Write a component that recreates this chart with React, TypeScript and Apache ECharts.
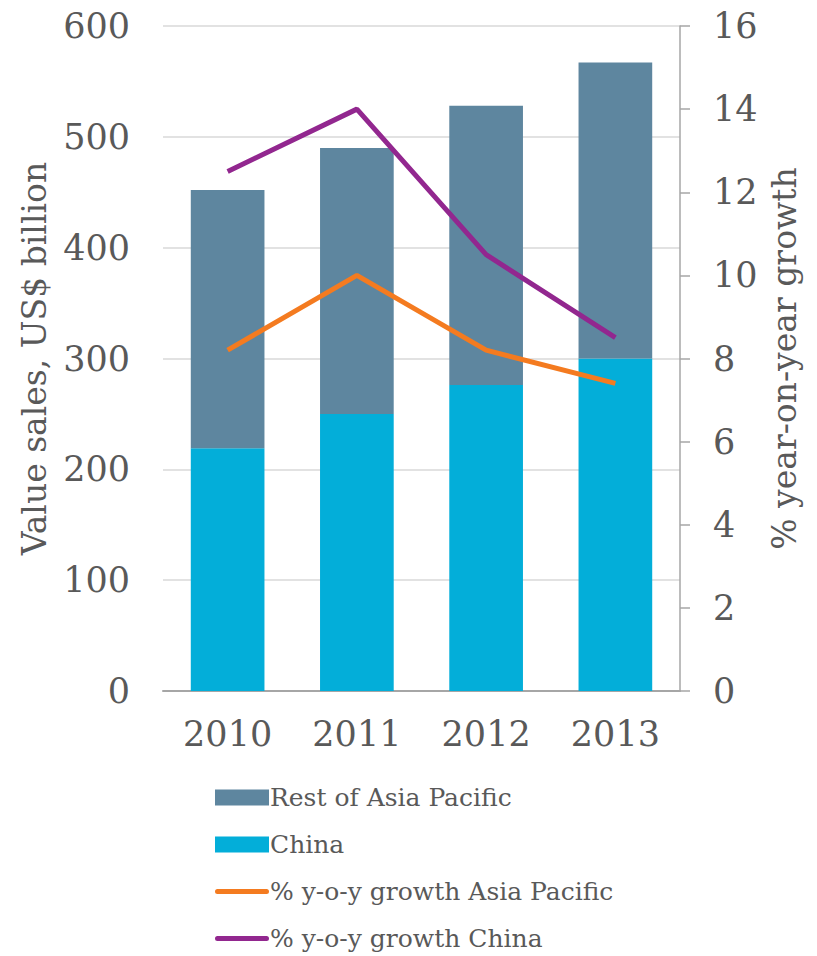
import React, { useEffect, useRef } from "react";
import * as echarts from "echarts";

const years = ["2010", "2011", "2012", "2013"];
const chinaSales = [219, 250, 276, 300];
const restSales = [233, 240, 252, 267];
const growthAsiaPacific = [8.2, 10.0, 8.2, 7.4];
const growthChina = [12.5, 14.0, 10.5, 8.5];

const FONT = "'DejaVu Serif', serif";
const TXT = "#595959";
const LINE_ICON = "path://M2.5,0 L51.5,0 A2.5,2.5 0 0 1 51.5,5 L2.5,5 A2.5,2.5 0 0 1 2.5,0 Z";

export default function App() {
  const ref = useRef<HTMLDivElement>(null);
  useEffect(() => {
    if (!ref.current) return;
    const chart = echarts.init(ref.current, null, { renderer: "svg" });
    chart.setOption({
      animation: false,
      textStyle: { fontFamily: FONT, color: TXT },
      grid: { left: 163, right: 137, top: 26, bottom: 265 },
      legend: {
        orient: "vertical",
        left: 210,
        top: 780,
        height: 176,
        itemGap: 22,
        itemWidth: 54,
        itemHeight: 16,
        textStyle: { fontFamily: FONT, fontSize: 25, color: TXT, padding: [0, 0, 0, -4] },
        data: [
          { name: "Rest of Asia Pacific", icon: "rect" },
          { name: "China", icon: "rect" },
          { name: "% y-o-y growth Asia Pacific", icon: LINE_ICON },
          { name: "% y-o-y growth China", icon: LINE_ICON },
        ],
      },
      xAxis: {
        type: "category",
        data: years,
        axisLine: { lineStyle: { color: "#a6a6a6", width: 2 } },
        axisTick: { show: false },
        axisLabel: { fontFamily: FONT, fontSize: 35, color: TXT, margin: 25 },
      },
      yAxis: [
        {
          type: "value",
          min: 0,
          max: 600,
          interval: 100,
          name: "Value sales, US$ billion",
          nameLocation: "middle",
          nameGap: 112,
          nameTextStyle: { fontFamily: FONT, fontSize: 33, color: TXT },
          axisLine: { show: false },
          axisTick: { show: false },
          axisLabel: { fontFamily: FONT, fontSize: 35, color: TXT, margin: 33 },
          splitLine: { lineStyle: { color: "#d9d9d9", width: 1.5 } },
        },
        {
          type: "value",
          min: 0,
          max: 16,
          interval: 2,
          position: "right",
          name: "% year-on-year growth",
          nameLocation: "middle",
          nameGap: 71,
          nameRotate: 90,
          nameTextStyle: { fontFamily: FONT, fontSize: 33, color: TXT },
          axisLine: { show: true, lineStyle: { color: "#a6a6a6", width: 1.5 } },
          axisTick: { show: true, length: 10, lineStyle: { color: "#a6a6a6", width: 1.5 } },
          axisLabel: { fontFamily: FONT, fontSize: 35, color: TXT, margin: 33 },
          splitLine: { show: false },
        },
      ],
      series: [
        {
          name: "China",
          type: "bar",
          stack: "sales",
          barWidth: "57%",
          data: chinaSales,
          itemStyle: { color: "#03AED9" },
        },
        {
          name: "Rest of Asia Pacific",
          type: "bar",
          stack: "sales",
          barWidth: "57%",
          data: restSales,
          itemStyle: { color: "#5E869F" },
        },
        {
          name: "% y-o-y growth Asia Pacific",
          type: "line",
          yAxisIndex: 1,
          data: growthAsiaPacific,
          symbol: "none",
          lineStyle: { color: "#F47B20", width: 5 },
          itemStyle: { color: "#F47B20" },
        },
        {
          name: "% y-o-y growth China",
          type: "line",
          yAxisIndex: 1,
          data: growthChina,
          symbol: "none",
          lineStyle: { color: "#92278F", width: 5 },
          itemStyle: { color: "#92278F" },
        },
      ],
    });
    return () => chart.dispose();
  }, []);
  return <div ref={ref} style={{ width: 817, height: 956, position: "absolute", left: 0, top: 0 }} />;
}
